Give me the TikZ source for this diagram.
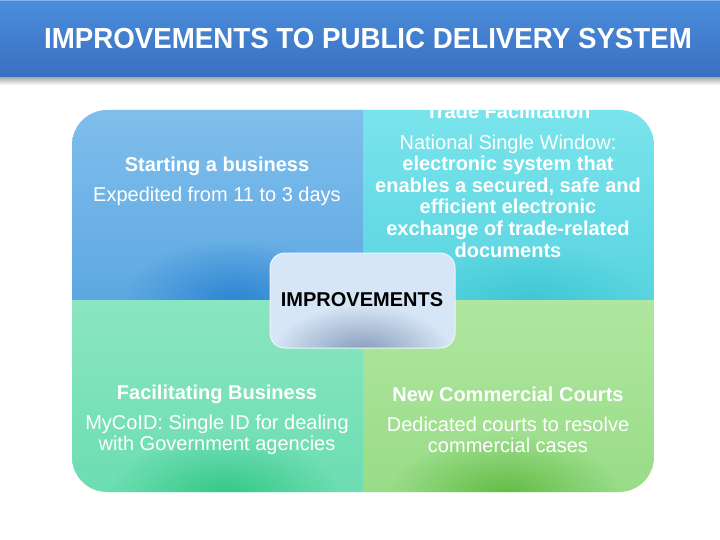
\documentclass[tikz,border=0pt]{standalone}
\usepackage{fontspec}
\setmainfont{Liberation Sans}
\usetikzlibrary{fadings}
\tikzfading[name=spot, inner color=transparent!0, outer color=transparent!100]
\definecolor{tbtop}{HTML}{4B8EDC}
\definecolor{tbbot}{HTML}{3A6FC0}
\definecolor{tbline}{HTML}{7FB4EC}
\definecolor{tlA}{HTML}{80BEEC}
\definecolor{tlB}{HTML}{5DA8E2}
\definecolor{tlS}{HTML}{2F86D2}
\definecolor{trA}{HTML}{7AE4EC}
\definecolor{trB}{HTML}{58D4E0}
\definecolor{trS}{HTML}{36C2D0}
\definecolor{blA}{HTML}{8AE6C0}
\definecolor{blB}{HTML}{6CDDB2}
\definecolor{blS}{HTML}{34C886}
\definecolor{brA}{HTML}{B0E6A0}
\definecolor{brB}{HTML}{98DC88}
\definecolor{brS}{HTML}{62BC44}
\definecolor{cbox}{HTML}{D7E6F6}
\definecolor{cboxS}{HTML}{8098B8}
\tikzset{
  txt/.style={text=white, align=center, inner sep=0pt, font=\fontsize{20}{21.6}\selectfont},
  btxt/.style={txt, font=\fontsize{20}{21.6}\selectfont\bfseries},
}
\begin{document}
\begin{tikzpicture}[x=1pt,y=-1pt]
\useasboundingbox (0,0) rectangle (720,540);
\fill[white] (0,0) rectangle (720,540);
% title bar
\shade[top color=black!35, bottom color=white] (0,77) rectangle (720,85);
\shade[top color=tbtop, bottom color=tbbot] (0,0) rectangle (720,77);
\fill[tbline] (0,0) rectangle (720,1.5);
\node[text=white, inner sep=0pt] (title) at (368,39)
  {\scalebox{0.955}[1]{\fontsize{29}{35}\selectfont\bfseries IMPROVEMENTS TO PUBLIC DELIVERY SYSTEM}};
% matrix
\begin{scope}
\clip[rounded corners=35pt] (72,110) rectangle (654,492);
\begin{scope}
\clip (72,110) rectangle (363,300);
\shade[top color=tlA, bottom color=tlB] (72,110) rectangle (363,300);
\fill[tlS, path fading=spot] (235,300) ellipse [x radius=110, y radius=60];
\end{scope}
\begin{scope}
\clip (363,110) rectangle (654,300);
\shade[top color=trA, bottom color=trB] (363,110) rectangle (654,300);
\fill[trS, path fading=spot, opacity=0.7] (530,300) ellipse [x radius=120, y radius=55];
\end{scope}
\begin{scope}
\clip (72,300) rectangle (363,492);
\shade[top color=blA, bottom color=blB] (72,300) rectangle (363,492);
\fill[blS, path fading=spot] (225,495) ellipse [x radius=115, y radius=60];
\end{scope}
\begin{scope}
\clip (363,300) rectangle (654,492);
\shade[top color=brA, bottom color=brB] (363,300) rectangle (654,492);
\fill[brS, path fading=spot] (505,495) ellipse [x radius=115, y radius=60];
\end{scope}
\end{scope}
% center box
\begin{scope}
\clip[rounded corners=15pt] (270,253) rectangle (455,348);
\fill[cbox] (270,253) rectangle (455,348);
\fill[cboxS, path fading=spot] (362,355) ellipse [x radius=90, y radius=50];
\end{scope}
\draw[white!60!cbox, line width=1pt, rounded corners=15pt] (270,253) rectangle (455,348);
\node[btxt, text=black] (imp) at (362,300) {IMPROVEMENTS};
% texts
\node[btxt] (sb) at (217,166) {Starting a business};
\node[txt] (sbd) at (217,196) {Expedited from 11 to 3 days};
\node[btxt] (tf) at (508,111) {Trade Facilitation};
\node[txt] (tfd) at (508,196) {National Single Window:\\ \textbf{electronic system that}\\ \textbf{enables a secured, safe and}\\ \textbf{efficient electronic}\\ \textbf{exchange of trade-related}\\ \textbf{documents}};
\node[btxt] (fb) at (217,394) {Facilitating Business};
\node[txt] (fbd) at (217,435) {MyCoID: Single ID for dealing\\ with Government agencies};
\node[btxt] (nc) at (508,394) {New Commercial Courts};
\node[txt] (ncd) at (508,435) {Dedicated courts to resolve\\ commercial cases};
\end{tikzpicture}
\end{document}
